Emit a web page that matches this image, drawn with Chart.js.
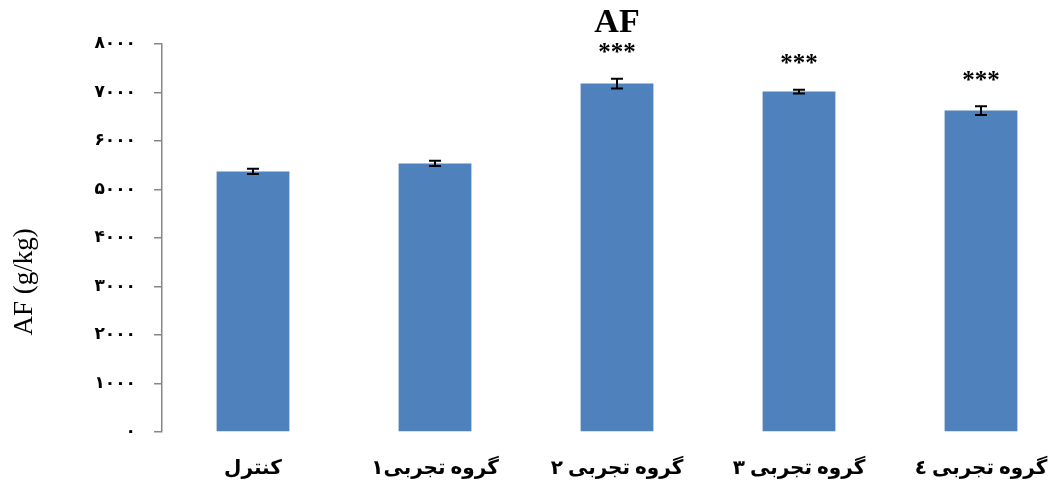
<!DOCTYPE html>
<html>
<head>
<meta charset="utf-8">
<script src="https://cdn.jsdelivr.net/npm/chart.js@4.4.0/dist/chart.umd.min.js"></script>
<style>
    body { margin: 0; overflow: hidden; background: #fff; }
    .chart-wrapper { width: 1080px; height: 488px; position: relative; }
</style>
</head>
<body>
<div class="chart-wrapper"><canvas id="myBarChart"></canvas></div>
<script>
const categories = ['کنترل', 'گروه تجربی۱', 'گروه تجربی ۲', 'گروه تجربی ۳', 'گروه تجربی ٤'];
const afValues = [5370, 5535, 7180, 7015, 6625];
const afErrors = [55, 55, 100, 40, 90];
const significance = ['', '', '***', '***', '***'];
const yTickLabels = ['۰', '۱۰۰۰', '۲۰۰۰', '۳۰۰۰', '۴۰۰۰', '۵۰۰۰', '۶۰۰۰', '۷۰۰۰', '۸۰۰۰'];

const serif = "'Liberation Serif', 'DejaVu Serif', 'DejaVu Sans', serif";

// error bars + significance stars
const errorBarPlugin = {
    id: 'errorBars',
    afterDatasetsDraw(chart) {
        const ctx = chart.ctx;
        const yScale = chart.scales.y;
        const meta = chart.getDatasetMeta(0);
        ctx.save();
        meta.data.forEach((bar, i) => {
            const v = afValues[i];
            const e = afErrors[i];
            const top = yScale.getPixelForValue(v + e);
            const bottom = yScale.getPixelForValue(v - e);
            const x = bar.x;
            ctx.strokeStyle = '#000';
            ctx.lineWidth = 2;
            ctx.beginPath();
            ctx.moveTo(x, top);
            ctx.lineTo(x, bottom);
            ctx.moveTo(x - 6, top);
            ctx.lineTo(x + 6, top);
            ctx.moveTo(x - 6, bottom);
            ctx.lineTo(x + 6, bottom);
            ctx.stroke();

            if (significance[i]) {
                ctx.fillStyle = '#000';
                ctx.font = 'bold 25px ' + serif;
                ctx.textAlign = 'center';
                ctx.textBaseline = 'middle';
                ctx.fillText(significance[i], x, top - 25);
            }
        });
        ctx.restore();
    }
};

const ctx = document.getElementById('myBarChart').getContext('2d');
new Chart(ctx, {
    type: 'bar',
    data: {
        labels: categories,
        datasets: [{
            label: 'AF',
            data: afValues,
            backgroundColor: '#4F81BD',
            borderWidth: 0,
            categoryPercentage: 1,
            barPercentage: 0.4
        }]
    },
    options: {
        responsive: true,
        maintainAspectRatio: false,
        animation: false,
        layout: {
            padding: { left: 9, right: 8, top: 0, bottom: 0 }
        },
        plugins: {
            legend: { display: false },
            tooltip: { enabled: false },
            title: {
                display: true,
                text: 'AF',
                fullSize: false,
                color: '#000',
                font: { family: serif, size: 34, weight: 'bold' },
                padding: { top: 3, bottom: 0 }
            }
        },
        scales: {
            x: {
                grid: { display: false, drawTicks: false },
                border: { display: false },
                ticks: {
                    color: '#000',
                    padding: 25,
                    maxRotation: 0,
                    autoSkip: false,
                    font: { family: serif, size: 20, weight: 'bold' }
                },
                afterFit(scale) { scale.height = 56; }
            },
            y: {
                min: 0,
                max: 8000,
                ticks: {
                    stepSize: 1000,
                    color: '#000',
                    padding: 18,
                    font: { family: serif, size: 17, weight: 'bold' },
                    callback: function(value) {
                        return yTickLabels[Math.round(value / 1000)];
                    }
                },
                grid: {
                    drawOnChartArea: false,
                    drawTicks: true,
                    tickLength: 8,
                    color: '#868686',
                    lineWidth: 1.5
                },
                border: { color: '#868686', width: 1.5 },
                title: {
                    display: true,
                    // trailing spaces push the rotated title lower, as in the original
                    text: 'AF (g/kg)' + '\u00A0'.repeat(13),
                    color: '#000',
                    font: { family: serif, size: 27 },
                    padding: { top: 0, bottom: 0 }
                },
                afterFit(scale) { scale.width = 153; }
            }
        }
    },
    plugins: [errorBarPlugin]
});
</script>
</body>
</html>
